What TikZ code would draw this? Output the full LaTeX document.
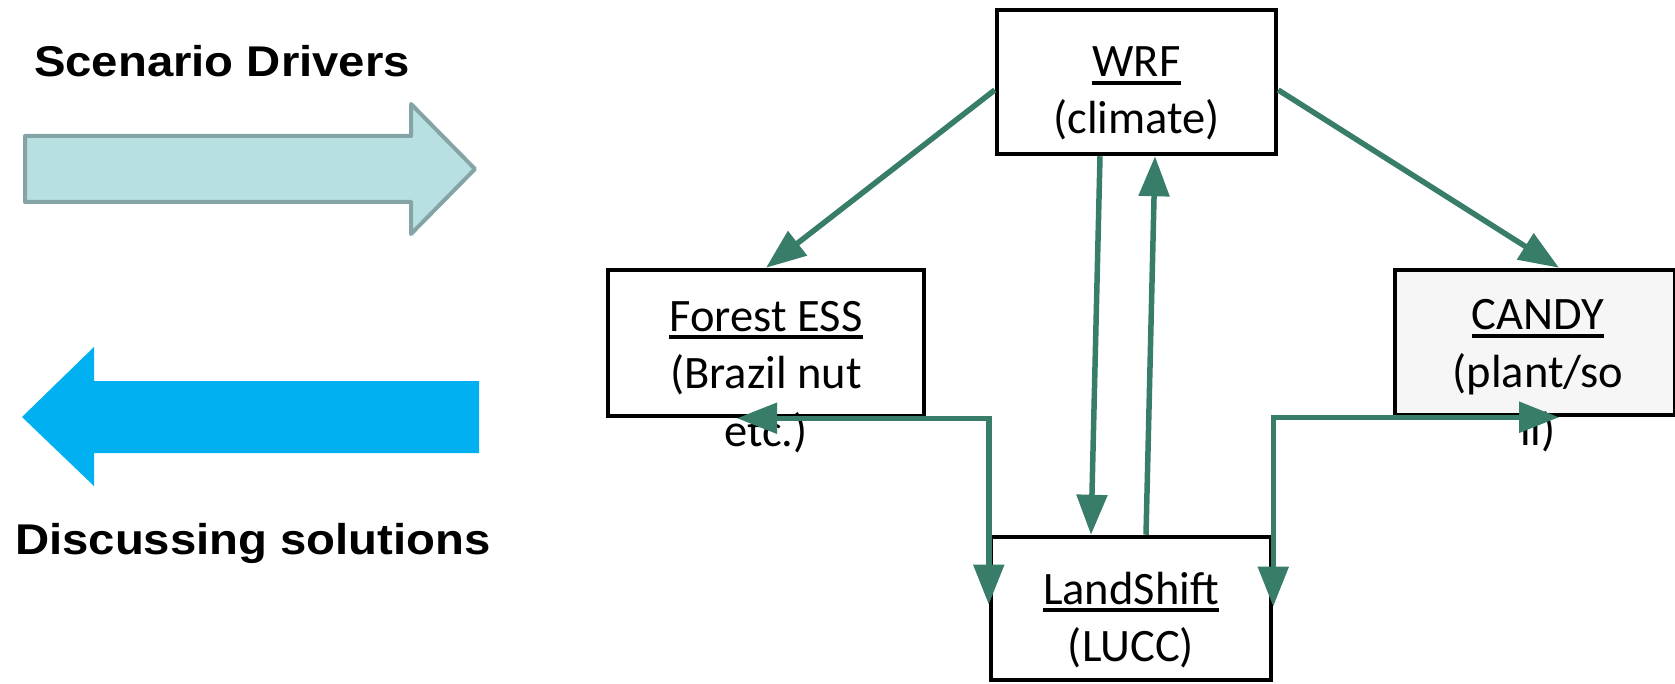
\documentclass[tikz,border=0pt]{standalone}
\usepackage{fontspec}
\setmainfont{Carlito}
\newfontfamily\headfont{Liberation Sans}
\usetikzlibrary{arrows.meta,calc}

\definecolor{linkgreen}{HTML}{377D6A}
\definecolor{driverfill}{HTML}{B8E0E3}
\definecolor{driverline}{HTML}{84A4A6}
\definecolor{solutionblue}{HTML}{00B0F0}
\definecolor{softgray}{HTML}{F6F6F6}

\begin{document}
\begin{tikzpicture}[x=1pt,y=-1pt,
  >={Triangle[length=40pt,width=30pt]},
  model/.style={draw=black, line width=4.5pt, inner sep=0pt},
  txtline/.style={inner sep=0pt, anchor=base, font=\fontsize{46.5}{57}\selectfont},
  heading/.style={inner sep=0pt, anchor=base, font=\headfont\bfseries\fontsize{43}{50}\selectfont},
  ulbar/.style={line width=4pt},
  link/.style={draw=linkgreen, line width=5.5pt}
]
\useasboundingbox (0,0) rectangle (1675,684);
\clip (0,0) rectangle (1675,684);

% side arrows with their captions
\draw[driverline, fill=driverfill, line width=4pt, line join=round]
  (25,136) -- (411,136) -- (411,104) -- (475,169) -- (411,234) -- (411,202) -- (25,202) -- cycle;
\fill[solutionblue]
  (22,417) -- (94,347) -- (94,381) -- (479,381) -- (479,453) -- (94,453) -- (94,486) -- cycle;
\node[heading] (drivers) at (222,77) {\scalebox{1.1}[1]{Scenario Drivers}};
\node[heading] (solutions) at (253,554) {\scalebox{1.1}[1]{Discussing solutions}};

% model boxes
\node[model, minimum width=279pt, minimum height=144pt] (wrf) at (1136.5,82) {};
\node[model, minimum width=316pt, minimum height=146pt] (forest) at (766,343) {};
\node[model, fill=softgray, minimum width=280pt, minimum height=145pt] (candy) at (1535,342.5) {};
\node[model, minimum width=280pt, minimum height=143pt] (land) at (1131,608.5) {};

% box texts
\node[txtline] (wrfA) at (1136.5,77) {WRF};
\node[txtline] (wrfB) at (1136.5,134) {(climate)};
\node[txtline] (forestA) at (766,331) {Forest ESS};
\node[txtline] (forestB) at (766,388) {(Brazil nut};
\node[txtline] (forestC) at (766,446) {etc.)};
\node[txtline] (candyA) at (1538,330) {CANDY};
\node[txtline] (candyB) at (1538,387) {(plant/so};
\node[txtline] (candyC) at (1538,445) {il)};
\node[txtline] (landA) at (1131,604) {LandShift};
\node[txtline] (landB) at (1131,661) {(LUCC)};
\foreach \n in {wrfA,forestA,candyA,landA}
  \draw[ulbar] ($(\n.base west)+(0,6)$) -- ($(\n.base east)+(0,6)$);

% couplings between the models
\draw[link,->] ($(wrf.west)+(0,8)$) -- (forest.north);
\draw[link,->] ($(wrf.east)+(0,8)$) -- ($(candy.north)+(24,0)$);
\draw[link,->] ($(wrf.south)+(-36.5,0)$) -- ($(land.north)+(-40,0)$);
\draw[link,->] ($(land.north)+(15,0)$) -- ($(wrf.south)+(18.5,0)$);
\draw[link,<->] ($(forest.south)+(-29,0)$) -| ($(land.west)+(0,-4)$);
\draw[link,<->] ($(candy.south)+(24,0)$) -| ($(land.east)+(0,-2)$);
\end{tikzpicture}
\end{document}
